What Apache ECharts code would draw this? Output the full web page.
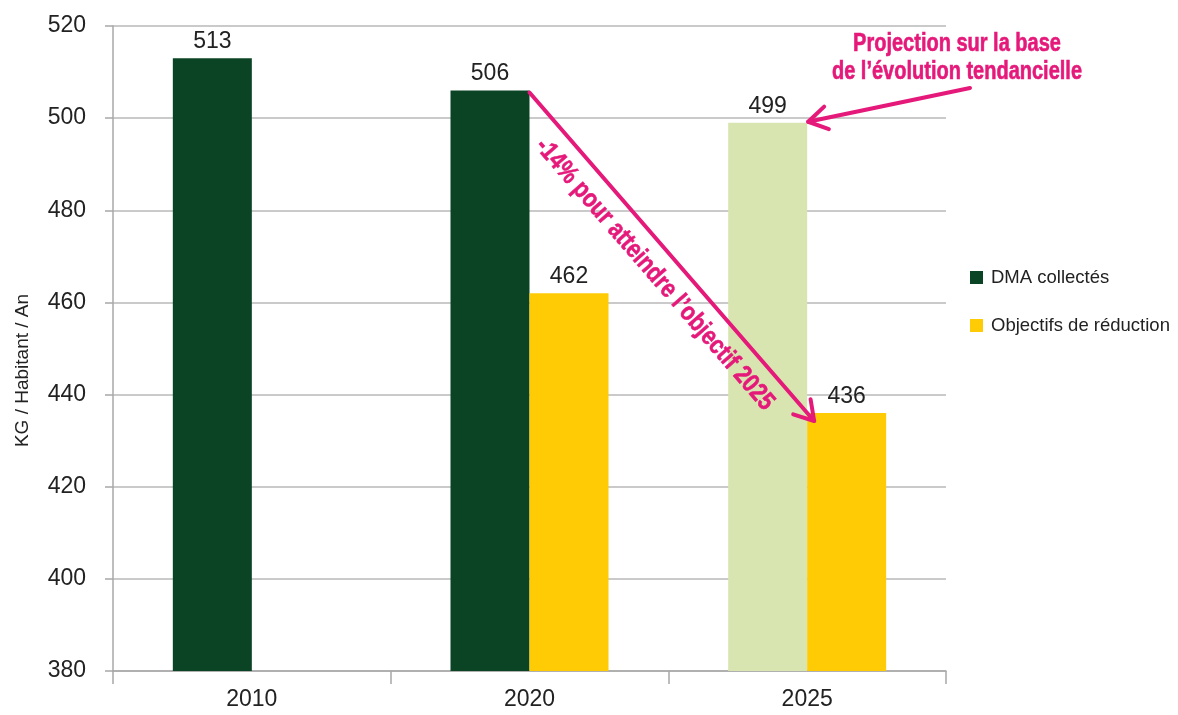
<!DOCTYPE html>
<html>
<head>
<meta charset="utf-8">
<script src="https://cdn.jsdelivr.net/npm/echarts@6/dist/echarts.min.js"></script>
<style>
  html, body { margin: 0; padding: 0; background: #fff; }
  #main { width: 1178px; height: 715px; }
</style>
</head>
<body>
<div id="main"></div>
<script>
var years = ['2010', '2020', '2025'];
var dmaValues = [513, 506, 499];
var objValues = [null, 462, 436];
var yTicks = { min: 380, max: 520, step: 20 };

var FONT = "'Liberation Sans', Arial, sans-serif";
var PINK = '#e5197a';
var DARK = '#0b4425';
var LIGHT = '#d8e5b1';
var YELLOW = '#ffcb05';

var chart = echarts.init(document.getElementById('main'));

var dmaData = dmaValues.map(function (v, i) {
    // la valeur 2025 est une projection -> vert clair
    if (i === 2) return { value: v, itemStyle: { color: LIGHT } };
    return v;
});

var valueLabel = { show: true, position: 'top', fontSize: 23, color: '#222', distance: 5, fontFamily: FONT };

var option = {
    animation: false,
    textStyle: { fontFamily: FONT },
    grid: { left: 113, right: 232, top: 26, bottom: 44 },
    legend: {
        orient: 'vertical',
        left: 970,
        top: 268,
        padding: 0,
        itemWidth: 13,
        itemHeight: 13,
        itemGap: 29,
        icon: 'rect',
        textStyle: { fontSize: 18.5, color: '#222', fontFamily: FONT, padding: [0, 0, 0, 3] }
    },
    xAxis: {
        type: 'category',
        data: years,
        axisLine: { lineStyle: { color: '#a8a8a8', width: 1.5 } },
        axisTick: { show: true, length: 13, lineStyle: { color: '#a8a8a8', width: 1.5 } },
        axisLabel: { fontSize: 23, color: '#222', margin: 17, fontFamily: FONT }
    },
    yAxis: {
        type: 'value',
        min: yTicks.min,
        max: yTicks.max,
        interval: yTicks.step,
        name: 'KG / Habitant / An',
        nameLocation: 'middle',
        nameGap: 81,
        nameTextStyle: { fontSize: 19, color: '#222', fontFamily: FONT, padding: [0, 44, 0, 0] },
        axisLine: { show: true, lineStyle: { color: '#a8a8a8', width: 1.5 } },
        axisTick: { show: true, length: 8, lineStyle: { color: '#a8a8a8', width: 1.5 } },
        axisLabel: { fontSize: 23, color: '#222', margin: 27, fontFamily: FONT },
        splitLine: { lineStyle: { color: '#b8b8b8', width: 1.5 } }
    },
    series: [
        {
            name: 'DMA collectés',
            type: 'bar',
            data: dmaData,
            barWidth: 79,
            barGap: '0%',
            itemStyle: { color: DARK },
            label: valueLabel
        },
        {
            name: 'Objectifs de réduction',
            type: 'bar',
            data: objValues,
            barWidth: 79,
            barGap: '0%',
            itemStyle: { color: YELLOW },
            label: valueLabel
        }
    ]
};

chart.setOption(option);

function px(cat, val) {
    return chart.convertToPixel({ xAxisIndex: 0, yAxisIndex: 0 }, [cat, val]);
}

function arrow(x1, y1, x2, y2) {
    var ang = Math.atan2(y2 - y1, x2 - x1);
    var len = 22, spread = 0.55;
    var a1 = [x2 - len * Math.cos(ang - spread), y2 - len * Math.sin(ang - spread)];
    var a2 = [x2 - len * Math.cos(ang + spread), y2 - len * Math.sin(ang + spread)];
    return [
        { type: 'line', shape: { x1: x1, y1: y1, x2: x2, y2: y2 },
          style: { stroke: PINK, lineWidth: 4, lineCap: 'round' }, z: 100 },
        { type: 'polyline', shape: { points: [a1, [x2, y2], a2] },
          style: { stroke: PINK, lineWidth: 4, fill: null, lineCap: 'round', lineJoin: 'round' }, z: 100 }
    ];
}

// fleche -14 % : du haut de la barre 2020 vers l'objectif 2025
var p0 = px('2020', dmaValues[1]);
var p1 = px('2025', objValues[2]);
var start = [p0[0], p0[1] + 2];
var end = [p1[0] + 7, p1[1] + 8];
var ang = Math.atan2(end[1] - start[1], end[0] - start[0]);

// fleche projection
var p2 = px('2025', dmaValues[2]);
var projStart = [970, 88];

var graphics = []
    .concat(arrow(start[0], start[1], end[0], end[1]))
    .concat(arrow(projStart[0], projStart[1], p2[0] + 1, p2[1] - 1));

var mid = [(start[0] + end[0]) / 2, (start[1] + end[1]) / 2];
var off = 24;
graphics.push({
    type: 'text',
    x: mid[0] - off * Math.sin(ang) + 1,
    y: mid[1] + off * Math.cos(ang) + 2,
    rotation: -ang,
    scaleX: 0.83,
    z: 100,
    style: {
        text: '-14% pour atteindre l\u2019objectif 2025',
        fill: PINK,
        stroke: PINK,
        lineWidth: 0.6,
        fontSize: 26,
        fontWeight: 'bold',
        fontFamily: FONT,
        align: 'center',
        verticalAlign: 'middle'
    }
});

graphics.push({
    type: 'text',
    x: 957,
    y: 58,
    scaleX: 0.8,
    z: 100,
    style: {
        text: 'Projection sur la base\nde l\u2019évolution tendancielle',
        fill: PINK,
        stroke: PINK,
        lineWidth: 0.6,
        fontSize: 25,
        fontWeight: 'bold',
        fontFamily: FONT,
        lineHeight: 28,
        align: 'center',
        verticalAlign: 'middle'
    }
});

chart.setOption({ graphic: graphics });
</script>
</body>
</html>
